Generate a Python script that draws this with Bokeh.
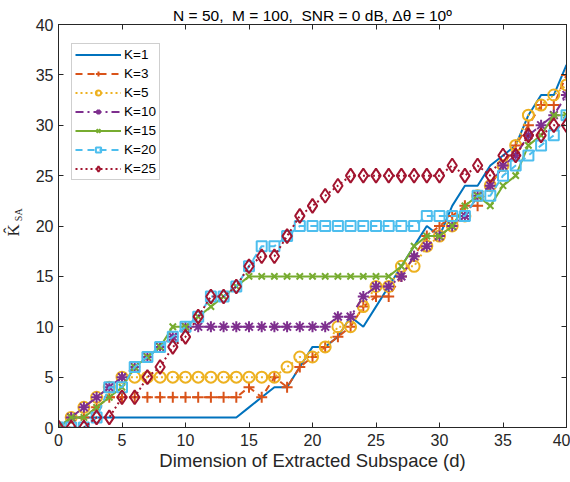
from bokeh.plotting import figure
from bokeh.models import Range1d, LinearAxis, FixedTicker, Legend, LegendItem
from bokeh.embed import file_html
from bokeh.resources import INLINE

d = list(range(41))
K1 = [0,1,1,1,1,1,1,1,1,1,1,1,1,1,1,2,3,4,4,6,8,8,9,11,10,12,14,16,18,20,19,22,24,24,26,27,28,31,33,33,36]
K3 = [0,1,1,2,3,3,3,3,3,3,3,3,3,3,3,4,3,5,4,6,7,8,9,10,12,13,13,15,17,19,20,21,22,22,24,26,28,30,32,32,35]
K5 = [0,1,2,3,4,5,5,5,5,5,5,5,5,5,5,5,5,5,6,7,7,8,10,10,12,14,14,16,16,18,19,20,21,23,24,26,28,31,32,33,34]
K10 = [0,1,2,3,4,5,6,7,8,9,10,10,10,10,10,10,10,10,10,10,10,10,11,11,13,14,14,15,17,18,19,20,21,23,24,26,27,29,30,31,33]
K15 = [0,1,1,2,3,4,6,7,8,10,10,11,12,13,14,15,15,15,15,15,15,15,15,15,15,15,15,16,18,19,19,20,22,23,22,24,25,28,29,31,31]
K20 = [0,0,0,1,4,4,6,7,8,9,10,11,13,13,14,16,18,18,19,20,20,20,20,20,20,20,20,20,20,21,21,21,21,23,23,25,26,27,28,29,31]
K25 = [0,0,0,1,1,3,3,5,6,8,9,11,13,13,14,16,17,17,19,21,22,23,24,25,25,25,25,25,25,25,25,26,25,26,25,27,27,29,29,30,30]

labels = ["K=1", "K=3", "K=5", "K=10", "K=15", "K=20", "K=25"]
series = [K1, K3, K5, K10, K15, K20, K25]
colors = ["#0072BD", "#D95319", "#EDB120", "#7E2F8E", "#77AC30", "#4DBEEE", "#A2142F"]
dashes = ["solid", "7 5", "2 3", "8 4 2 4", "solid", "7 5", "2 3"]
markers = [None, "cross", "circle", "asterisk", "x", "square", "diamond"]
msizes = [0, 11, 11, 11, 9, 10, 14]

xticks = [0, 5, 10, 15, 20, 25, 30, 35, 40]
yticks = [0, 5, 10, 15, 20, 25, 30, 35, 40]
title_text = "N = 50,\u00a0 M = 100,\u00a0 SNR = 0 dB, \u0394\u03b8 = 10\u00ba"
ylabel_main = "K\u0302"
ylabel_sub = "SA"

FONT = "Liberation Sans"
AX = "#262626"
NB = "\u00a0"

p = figure(width=570, height=482, x_range=Range1d(0, 40), y_range=Range1d(0, 40),
           output_backend="svg", toolbar_location=None, title=title_text,
           min_border_left=58, min_border_right=4, min_border_top=24, min_border_bottom=55)
p.title.align = "center"
p.title.vertical_align = "middle"
p.title.text_font = FONT
p.title.text_font_size = "15.5px"
p.title.text_font_style = "normal"
p.title.text_color = "#000000"
p.title.standoff = 0
p.title.offset = 8

p.background_fill_color = "white"
p.border_fill_color = "white"
p.xgrid.visible = False
p.ygrid.visible = False
p.outline_line_color = AX
p.outline_line_width = 1

for ax in (p.xaxis[0], p.yaxis[0]):
    ax.major_tick_in = 5
    ax.major_tick_out = 0
    ax.minor_tick_line_color = None
    ax.axis_line_color = AX
    ax.major_tick_line_color = AX
    ax.major_label_text_font = FONT
    ax.major_label_text_font_size = "16px"
    ax.major_label_text_color = AX
p.xaxis[0].ticker = FixedTicker(ticks=xticks)
p.yaxis[0].ticker = FixedTicker(ticks=yticks)
p.xaxis[0].major_label_standoff = 6
p.yaxis[0].major_label_standoff = 5
p.xaxis[0].axis_label = "Dimension of Extracted Subspace (d)"
p.xaxis[0].axis_label_text_font = FONT
p.xaxis[0].axis_label_text_font_size = "18.5px"
p.xaxis[0].axis_label_text_font_style = "normal"
p.xaxis[0].axis_label_text_color = AX
p.xaxis[0].axis_label_standoff = 1

# tick-only box axes on top and right (MATLAB "box on")
top = LinearAxis(ticker=FixedTicker(ticks=xticks), major_tick_in=5, major_tick_out=0,
                 minor_tick_line_color=None, major_label_text_font_size="0px",
                 major_label_overrides={t: "" for t in xticks},
                 major_label_standoff=0, axis_line_color=AX, major_tick_line_color=AX)
right = LinearAxis(ticker=FixedTicker(ticks=yticks), major_tick_in=5, major_tick_out=0,
                   minor_tick_line_color=None, major_label_text_font_size="0px",
                   major_label_overrides={t: "" for t in yticks},
                   major_label_standoff=0, axis_line_color=AX, major_tick_line_color=AX)
p.add_layout(top, "above")
p.add_layout(right, "right")

# y-axis label K-hat with subscript SA: two label-only axes on the left
def label_axis(text, size, standoff):
    return LinearAxis(ticker=FixedTicker(ticks=[]),
                      major_tick_in=0, major_tick_out=0, minor_tick_in=0, minor_tick_out=0,
                      minor_tick_line_color=None, major_tick_line_color=None,
                      axis_line_color=None, major_label_text_font_size="0px",
                      major_label_standoff=0, axis_label=text,
                      axis_label_text_font="Liberation Serif",
                      axis_label_text_font_size=size, axis_label_text_font_style="normal",
                      axis_label_text_color=AX, axis_label_standoff=standoff)

sa_axis = label_axis(NB * 9 + ylabel_sub, "10px", 9)
k_axis = label_axis(ylabel_main + NB * 2, "17px", -13)
p.add_layout(sa_axis, "left")
p.add_layout(k_axis, "left")

items = []
for lab, ys, c, dash, m, ms in zip(labels, series, colors, dashes, markers, msizes):
    rs = []
    rl = p.line(d, ys, line_color=c, line_width=2, line_dash=dash)
    rs.append(rl)
    if m is not None:
        fill = c if m == "asterisk" else None
        rm = p.scatter(d, ys, marker=m, size=ms, line_color=c, line_width=2,
                       fill_color=fill)
        rs.append(rm)
    items.append(LegendItem(label=lab, renderers=rs))

legend = Legend(items=items, location=(13, 247))
legend.label_text_font = FONT
legend.label_text_font_size = "13.5px"
legend.label_text_color = "#000000"
legend.glyph_width = 46
legend.glyph_height = 13
legend.label_height = 13
legend.spacing = 4
legend.padding = 3
legend.margin = 0
legend.label_standoff = 3
legend.border_line_color = "#A0A0A0"
legend.border_line_width = 1
legend.background_fill_color = "white"
legend.background_fill_alpha = 1
p.add_layout(legend, "center")

open("out.html", "w").write(file_html(p, INLINE))
